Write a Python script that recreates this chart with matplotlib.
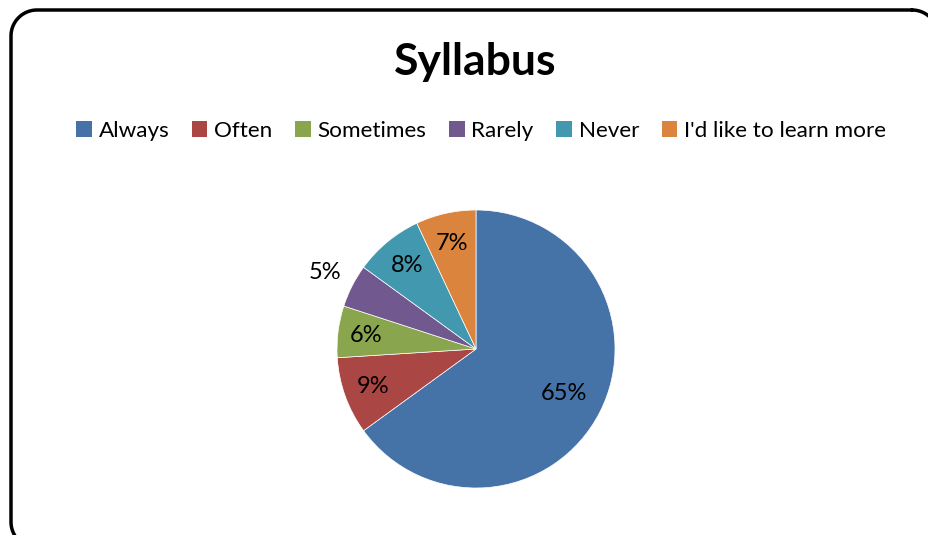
import matplotlib
matplotlib.use("Agg")
import matplotlib.pyplot as plt
from matplotlib.patches import Patch
import numpy as np

# data
categories = ["Always", "Often", "Sometimes", "Rarely", "Never", "I'd like to learn more"]
shares = [65, 9, 6, 5, 8, 7]
colors = ["#4572A7", "#AA4643", "#89A54E", "#71588F", "#4198AF", "#DB843D"]

plt.rcParams['font.family'] = ['Lato', 'DejaVu Sans']

W, H = 929, 535
fig = plt.figure(figsize=(W / 100, H / 100), dpi=100)


def rounded_rect(x0, y0, x1, y1, rad, n=30):
    # outline of a rounded rectangle, y grows downward
    pts = []
    corners = [(x1 - rad, y0 + rad, -90, 0), (x1 - rad, y1 - rad, 0, 90),
               (x0 + rad, y1 - rad, 90, 180), (x0 + rad, y0 + rad, 180, 270)]
    for ccx, ccy, a0, a1 in corners:
        t = np.deg2rad(np.linspace(a0, a1, n))
        pts += list(zip(ccx + rad * np.cos(t), ccy + rad * np.sin(t)))
    pts.append(pts[0])
    return np.array(pts)


# outer frame in pixel coords (runs off the right/bottom edge)
bg = fig.add_axes([0, 0, 1, 1])
bg.set_xlim(0, W)
bg.set_ylim(H, 0)
bg.axis("off")
fr = rounded_rect(11, 10, 938, 548, 26)
bg.plot(fr[:, 0], fr[:, 1], color="black", linewidth=2.5, solid_capstyle="round")

fig.text(475 / W, 1 - 62 / H, "Syllabus", ha="center", va="center",
         fontsize=32, fontweight="bold")

# pie
cx, cy, r = 476, 349, 139
ax = fig.add_axes([(cx - r) / W, (H - cy - r) / H, 2 * r / W, 2 * r / H])
wedges, _ = ax.pie(shares, colors=colors, startangle=90, counterclock=False,
                   wedgeprops=dict(edgecolor="white", linewidth=0.5))
ax.set_xlim(-1, 1)
ax.set_ylim(-1, 1)
ax.set_aspect("equal")
ax.axis("off")

dist = [0.71, 0.79, 0.8, 1.22, 0.78, 0.78]
for w, s, d in zip(wedges, shares, dist):
    ang = np.deg2rad((w.theta1 + w.theta2) / 2)
    ax.text(d * np.cos(ang), d * np.sin(ang), f"{s}%", ha="center", va="center",
            fontsize=17)

handles = [Patch(facecolor=c, edgecolor="none") for c in colors]
fig.legend(handles, categories, loc="center", bbox_to_anchor=(481 / W, 1 - 131 / H),
           ncol=6, frameon=False, fontsize=16.2, handlelength=0.7, handleheight=0.7,
           handletextpad=0.3, columnspacing=1.0)

fig.savefig("out.png", dpi=100)
